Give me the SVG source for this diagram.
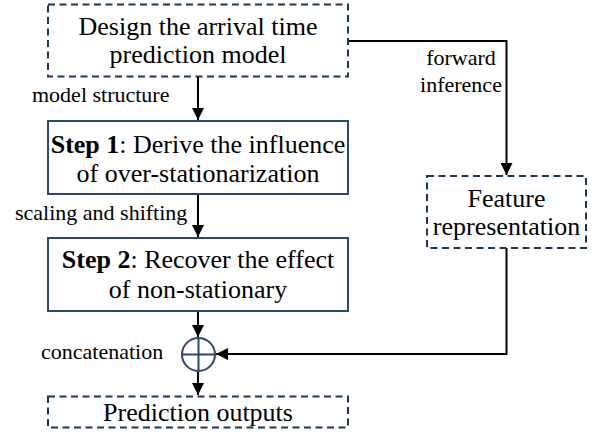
<svg xmlns="http://www.w3.org/2000/svg" width="598" height="445" viewBox="0 0 598 445">
<style>
.dash{fill:#fff;stroke:#1f3557;stroke-width:2;stroke-dasharray:7,4.5}
.solid{fill:#fff;stroke:#2b4670;stroke-width:2}
.main{font-size:26px;fill:#000;text-anchor:middle}
.lbl{font-size:22px;fill:#000}
.conn{fill:none;stroke:#000;stroke-width:2}
</style>
<defs>
<marker id="ah" viewBox="0 0 10 10" refX="10" refY="5" markerWidth="12" markerHeight="12" markerUnits="userSpaceOnUse" orient="auto">
<path d="M0,0 L10,5 L0,10 z" fill="#000"/>
</marker>
</defs>
<g font-family="'Liberation Serif', Tinos, 'Times New Roman', Times, serif">
<g id="connectors">
<path class="conn" d="M198,77 V120" marker-end="url(#ah)"/>
<path class="conn" d="M198,194 V237" marker-end="url(#ah)"/>
<path class="conn" d="M198,311 V337" marker-end="url(#ah)"/>
<path class="conn" d="M198,371 V395" marker-end="url(#ah)"/>
<path class="conn" d="M348,41 H506.5 V175" marker-end="url(#ah)"/>
<path class="conn" d="M506.5,248 V354 H216" marker-end="url(#ah)"/>
<text class="lbl" x="32" y="102">model structure</text>
<text class="lbl" x="15" y="220">scaling and shifting</text>
<text class="lbl" x="41" y="359">concatenation</text>
<text class="lbl" x="461" y="65" text-anchor="middle">forward</text>
<text class="lbl" x="461" y="92" text-anchor="middle">inference</text>
</g>
<g id="design">
<rect class="dash" x="48" y="4.5" width="300" height="72"/>
<text class="main" x="198" y="35">Design the arrival time</text>
<text class="main" x="198" y="63">prediction model</text>
</g>
<g id="step1">
<rect class="solid" x="48" y="121" width="300" height="73"/>
<text class="main" x="198" y="153"><tspan font-weight="bold">Step 1</tspan>: Derive the influence</text>
<text class="main" x="198" y="182">of over-stationarization</text>
</g>
<g id="step2">
<rect class="solid" x="48" y="238" width="300" height="73"/>
<text class="main" x="198" y="268"><tspan font-weight="bold">Step 2</tspan>: Recover the effect</text>
<text class="main" x="198" y="298">of non-stationary</text>
</g>
<g id="concat">
<circle cx="198.5" cy="354.5" r="16.5" fill="#fff" stroke="#2b4670" stroke-width="2"/>
<path d="M182,354.5 H215 M198.5,338 V371" stroke="#2b4670" stroke-width="2"/>
</g>
<g id="outputs">
<rect class="dash" x="48" y="396.5" width="300" height="31"/>
<text class="main" x="198" y="421">Prediction outputs</text>
</g>
<g id="feature">
<rect class="dash" x="427" y="176" width="159" height="72"/>
<text class="main" x="506.5" y="207">Feature</text>
<text class="main" x="506.5" y="235">representation</text>
</g>
</g>
</svg>
